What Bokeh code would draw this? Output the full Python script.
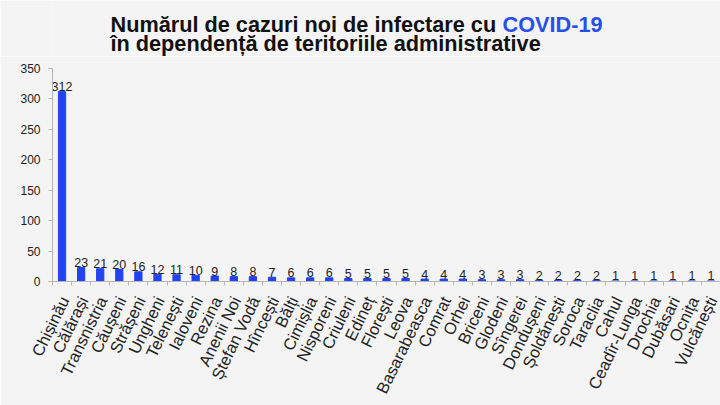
from bokeh.plotting import figure
from bokeh.layouts import column
from bokeh.models import ColumnDataSource, Range1d, FixedTicker
from bokeh.core.properties import value
from bokeh.embed import file_html
from bokeh.resources import INLINE
import math

districts = ["Chișinău", "Călărași", "Transnistria", "Căușeni", "Strășeni", "Ungheni",
             "Telenești", "Ialoveni", "Rezina", "Anenii Noi", "Ștefan Vodă", "Hîncești",
             "Bălți", "Cimișlia", "Nisporeni", "Criuleni", "Edineț", "Florești", "Leova",
             "Basarabeasca", "Comrat", "Orhei", "Briceni", "Glodeni", "Sîngerei",
             "Dondușeni", "Șoldănești", "Soroca", "Taraclia", "Cahul", "Ceadîr-Lunga",
             "Drochia", "Dubăsari", "Ocnița", "Vulcănești"]
cases = [312, 23, 21, 20, 16, 12, 11, 10, 9, 8, 8, 7, 6, 6, 6, 5, 5, 5, 5,
         4, 4, 4, 3, 3, 3, 2, 2, 2, 2, 1, 1, 1, 1, 1, 1]
y_ticks = [0, 50, 100, 150, 200, 250, 300, 350]
title_parts = ["Numărul de cazuri noi de infectare cu ", "COVID-19",
               "în dependență de teritoriile administrative"]

BG = "#f4f4f4"
FONT = "Liberation Sans"
W = 720
LEFT = 52          # frame left edge (shared by both figures in the column)
TH = 56            # title strip height
MH = 405 - TH      # main chart height

# ---------- title strip ----------
t = figure(width=W, height=TH, output_backend="svg", toolbar_location=None,
           x_range=Range1d(LEFT, W), y_range=Range1d(0, TH),
           x_axis_location=None, y_axis_location=None,
           min_border_left=LEFT, min_border_right=0, min_border_top=0, min_border_bottom=0)
t.background_fill_color = BG
t.border_fill_color = BG
t.outline_line_color = None
t.grid.visible = False
tsrc = ColumnDataSource(dict(x=[110, 502, 110], y=[TH - 24, TH - 24, TH - 43], txt=title_parts,
                             col=["#111111", "#2a4fe6", "#111111"]))
t.text(x="x", y="y", text="txt", text_color="col", source=tsrc, text_font=value(FONT),
       text_font_size="21.7px", text_font_style="bold", text_baseline="alphabetic", text_align="left")

# ---------- bar chart ----------
idx = list(range(len(districts)))
src = ColumnDataSource(dict(x=idx, y=cases, lbl=[str(c) for c in cases]))

p = figure(width=W, height=MH, output_backend="svg", toolbar_location=None,
           x_range=Range1d(-0.5, len(districts) - 0.5), y_range=Range1d(0, 350),
           min_border_left=LEFT, min_border_right=0, min_border_top=68 - TH, min_border_bottom=405 - 281)
p.background_fill_color = BG
p.border_fill_color = BG
p.outline_line_color = None
p.grid.visible = False

p.vbar(x="x", top="y", width=0.38, source=src, color="#2342f0")
p.text(x="x", y="y", text="lbl", source=src, text_align="center", text_baseline="alphabetic",
       y_offset=-5, text_font=value(FONT), text_font_size="12.5px", text_color="#222222")

shift = 0.12
label_ticks = [i + shift for i in idx]
p.xaxis.ticker = FixedTicker(ticks=label_ticks, minor_ticks=[i - 0.5 for i in range(len(districts) + 1)])
p.xaxis.major_label_overrides = {tk: d for tk, d in zip(label_ticks, districts)}
p.xaxis.major_label_orientation = math.radians(64)
p.xaxis.major_tick_out = 0
p.xaxis.major_tick_in = 0
p.xaxis.minor_tick_out = 4
p.xaxis.minor_tick_in = 0
p.xaxis.minor_tick_line_color = "#b5b5b5"
p.xaxis.axis_line_color = "#b5b5b5"
p.xaxis.major_label_text_font = FONT
p.xaxis.major_label_text_font_size = "16.5px"
p.xaxis.major_label_text_color = "#222222"
p.xaxis.major_label_standoff = 12

p.yaxis.ticker = FixedTicker(ticks=y_ticks)
p.yaxis.axis_line_color = "#b5b5b5"
p.yaxis.major_tick_line_color = "#b5b5b5"
p.yaxis.major_tick_out = 4
p.yaxis.major_tick_in = 0
p.yaxis.minor_tick_line_color = None
p.yaxis.major_label_text_font = FONT
p.yaxis.major_label_text_font_size = "12px"
p.yaxis.major_label_text_color = "#222222"
p.yaxis.major_label_standoff = 8

layout = column(t, p, spacing=0)
open("out.html", "w").write(file_html(layout, INLINE))
